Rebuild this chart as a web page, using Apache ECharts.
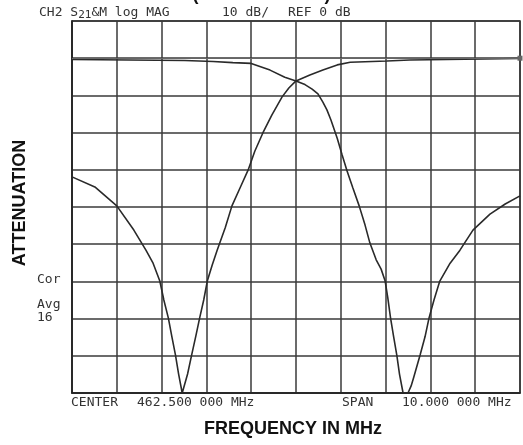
<!DOCTYPE html>
<html>
<head>
<meta charset="utf-8">
<title>CH2 S21 log MAG</title>
<script src="https://cdn.jsdelivr.net/npm/echarts@6/dist/echarts.min.js"></script>
<style>
  html, body { margin: 0; padding: 0; background: #fff; }
  #chart { width: 523px; height: 445px; }
</style>
</head>
<body>
<div id="chart"></div>
<script>
// analyser settings
const CENTER_MHZ = 462.5;
const SPAN_MHZ = 10;
const REF_DB = 0;
const DB_TOP = 10;
const DB_BOTTOM = -90;
const DB_PER_DIV = 10;

// trace passing the low side, notch near 465 MHz
const freqA = [457.50, 460.02, 460.65, 461.09, 461.50, 461.92, 462.25, 462.50, 462.70, 462.86,
  462.99, 463.10, 463.19, 463.28, 463.42, 463.53, 463.64, 463.77, 463.91, 464.04,
  464.15, 464.29, 464.40, 464.49, 464.55, 464.61, 464.68, 464.75, 464.81, 464.89,
  465.00, 465.07, 465.13, 465.27, 465.38, 465.47, 465.58, 465.71, 465.94, 466.16,
  466.45, 466.83, 467.17, 467.50];
const dbA = [-0.35, -0.6, -0.9, -1.2, -1.4, -3.2, -5.1, -6.1, -7.1, -8.3,
  -9.6, -11.8, -13.9, -16.6, -21.5, -26.0, -30.3, -34.9, -39.7, -44.8,
  -49.7, -54.2, -56.7, -59.9, -64.5, -69.8, -74.9, -79.8, -84.9, -90,
  -90, -88.1, -85.7, -79.8, -74.9, -69.8, -65.0, -59.9, -55.1, -51.6,
  -46.2, -41.9, -39.2, -37.0];

// trace passing the high side, notch near 460 MHz
const freqB = [457.50, 458.01, 458.50, 458.88, 459.15, 459.31, 459.46, 459.55, 459.65, 459.73,
  459.81, 459.88, 459.96, 459.99, 460.08, 460.17, 460.26, 460.35, 460.44, 460.52,
  460.63, 460.74, 460.92, 461.07, 461.25, 461.43, 461.58, 461.76, 461.96, 462.19,
  462.34, 462.50, 462.81, 463.10, 463.42, 463.71, 464.53, 465.04, 467.50];
const dbB = [-31.9, -34.6, -39.7, -46.2, -51.6, -55.1, -59.9, -65.0, -69.8, -74.9,
  -79.8, -84.9, -90, -90, -84.9, -79.8, -74.9, -69.8, -65.0, -59.9,
  -55.6, -51.6, -45.6, -39.7, -34.9, -30.1, -25.0, -20.1, -15.3, -10.4,
  -8.0, -6.1, -4.5, -3.2, -1.8, -1.1, -0.75, -0.5, -0.1];

function toPoints(freqs, dbs) {
  return freqs.map((f, i) => [f - CENTER_MHZ, dbs[i]]);
}

const monoFont = '13px "DejaVu Sans Mono", monospace';
const boldFont = 'bold 18px "Liberation Sans", Arial, sans-serif';
const ink = '#2a2a2a';

let myChart = echarts.init(document.getElementById('chart'));

let option = {
  backgroundColor: '#fff',
  animation: false,
  grid: {
    left: 72,
    right: 3,
    top: 21,
    bottom: 52,
    show: true,
    borderColor: '#222',
    borderWidth: 1.5
  },
  xAxis: {
    type: 'value',
    min: -SPAN_MHZ / 2,
    max: SPAN_MHZ / 2,
    interval: 1,
    axisLabel: { show: false },
    axisTick: { show: false },
    axisLine: { show: true, onZero: false, lineStyle: { color: '#222', width: 1.5 } },
    splitLine: { show: true, lineStyle: { color: '#3a3a3a', width: 1.5 } }
  },
  yAxis: {
    type: 'value',
    min: DB_BOTTOM,
    max: DB_TOP,
    interval: DB_PER_DIV,
    axisLabel: { show: false },
    axisTick: { show: false },
    axisLine: { show: true, onZero: false, lineStyle: { color: '#222', width: 1.5 } },
    splitLine: { show: true, lineStyle: { color: '#3a3a3a', width: 1.5 } }
  },
  series: [
    {
      name: 'A',
      type: 'line',
      data: toPoints(freqA, dbA),
      showSymbol: false,
      lineStyle: { color: ink, width: 1.6 },
      z: 3,
      markLine: {
        silent: true,
        symbol: ['none', 'rect'],
        symbolSize: 5,
        label: { show: false },
        lineStyle: { color: '#666', width: 1.2, type: 'solid' },
        itemStyle: { color: '#111' },
        data: [{ yAxis: REF_DB }]
      }
    },
    {
      name: 'B',
      type: 'line',
      data: toPoints(freqB, dbB),
      showSymbol: false,
      lineStyle: { color: ink, width: 1.6 },
      z: 3
    }
  ],
  graphic: [
    // title strip cut off at the top edge
    { type: 'text', left: 'center', top: -14, style: { text: '(10 dB PER DIV)', font: boldFont, fill: '#111' } },
    {
      type: 'text', left: 39, top: 6,
      style: {
        text: 'CH2 S{sub|21}&M log MAG',
        font: monoFont, fill: '#333',
        rich: { sub: { font: '11px "DejaVu Sans Mono", monospace', fill: '#333', padding: [6, 0, 0, 0] } }
      }
    },
    { type: 'text', left: 222, top: 6, style: { text: '10 dB/', font: monoFont, fill: '#333' } },
    { type: 'text', left: 288, top: 6, style: { text: 'REF 0 dB', font: monoFont, fill: '#333' } },
    {
      type: 'text', x: 20, y: 203, rotation: Math.PI / 2,
      style: { text: 'ATTENUATION', font: boldFont, fill: '#111', align: 'center', verticalAlign: 'middle' }
    },
    { type: 'text', left: 37, top: 273, style: { text: 'Cor', font: monoFont, fill: '#333' } },
    { type: 'text', left: 37, top: 298, style: { text: 'Avg', font: monoFont, fill: '#333' } },
    { type: 'text', left: 37, top: 311, style: { text: '16', font: monoFont, fill: '#333' } },
    { type: 'text', left: 71, top: 396, style: { text: 'CENTER', font: monoFont, fill: '#333' } },
    { type: 'text', left: 137, top: 396, style: { text: '462.500 000 MHz', font: monoFont, fill: '#333' } },
    { type: 'text', left: 342, top: 396, style: { text: 'SPAN', font: monoFont, fill: '#333' } },
    { type: 'text', left: 402, top: 396, style: { text: '10.000 000 MHz', font: monoFont, fill: '#333' } },
    { type: 'text', x: 293, y: 429, style: { text: 'FREQUENCY IN MHz', font: boldFont, fill: '#111', align: 'center', verticalAlign: 'middle' } }
  ]
};

myChart.setOption(option);
window.onresize = function () {
  myChart.resize();
};
</script>
</body>
</html>
